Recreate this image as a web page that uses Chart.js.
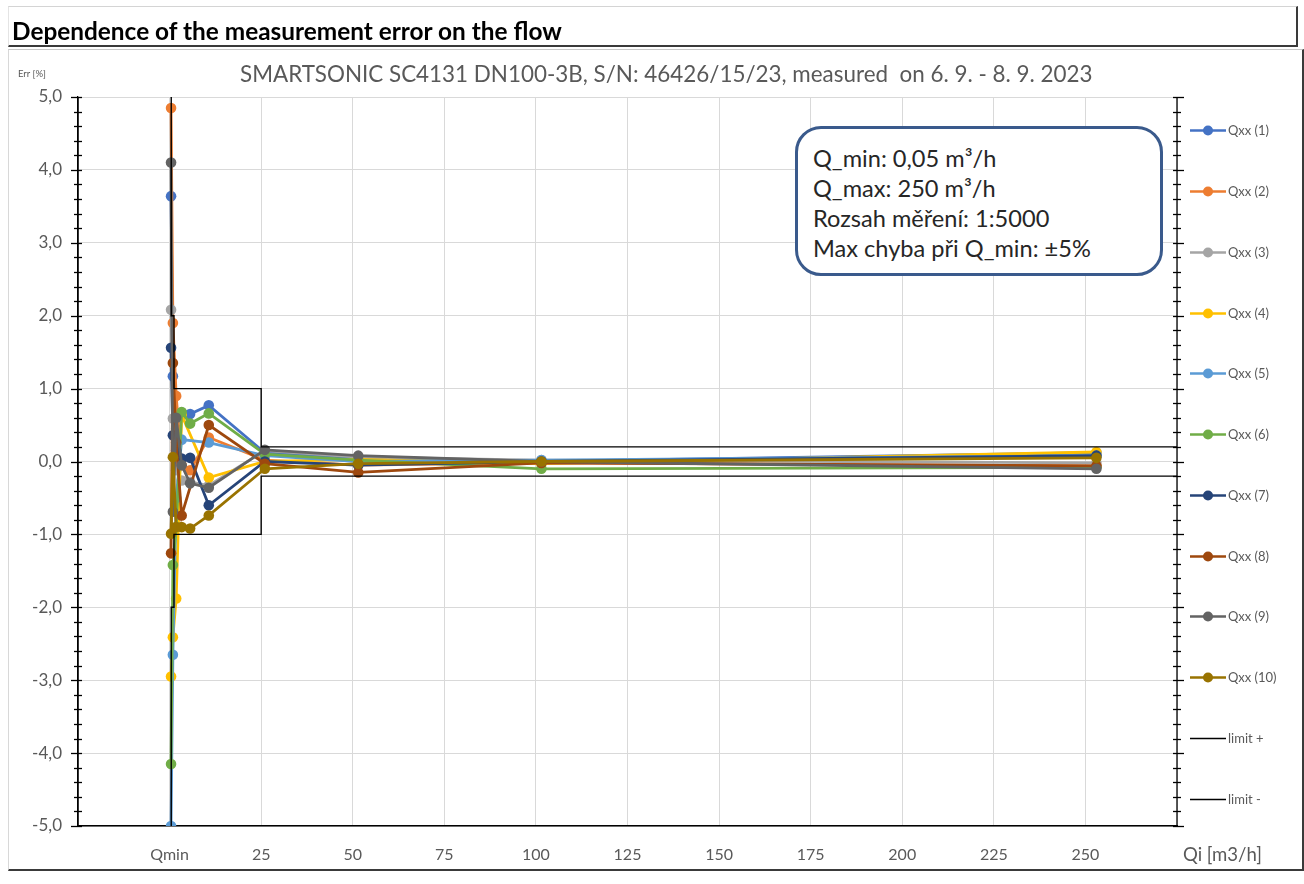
<!DOCTYPE html>
<html><head><meta charset="utf-8">
<script src="https://cdn.jsdelivr.net/npm/chart.js@4"></script>
<style>
html,body{margin:0;padding:0;background:#fff;}
#wrap{position:relative;width:1304px;height:884px;overflow:hidden;font-family:Lato,"Open Sans",sans-serif;}
#c{position:absolute;left:0;top:0;z-index:1;}
.abs{position:absolute;white-space:nowrap;z-index:2;}
#titlebox{left:8px;top:6px;width:1287px;height:38px;border-top:1px solid #d4d4d4;border-left:1px solid #e4e4e4;border-right:2px solid #3a3a3a;border-bottom:2px solid #3a3a3a;z-index:0;}
#chartbox{left:8px;top:49px;width:1293px;height:819px;border-top:1px solid #c8c8c8;border-left:1px solid #d8d8d8;border-right:2px solid #3a3a3a;border-bottom:2px solid #3a3a3a;z-index:0;}
#title{left:12px;top:20px;font-size:20px;font-weight:bold;color:#000;line-height:22px;}
#subtitle{left:240px;top:63px;font-size:20px;color:#595959;line-height:22px;}
#err{left:18px;top:67px;font-size:12px;color:#595959;line-height:14px;}
#qi{left:1183px;top:845px;font-size:16px;color:#595959;line-height:18px;}
#info{left:795px;top:126px;width:368px;height:150px;border:3px solid #3A5A8C;border-radius:26px;background:#fff;box-sizing:border-box;padding:14px 0 0 15px;color:#262626;font-size:20px;line-height:30px;z-index:3;}
</style>
</head><body>
<div id="wrap">
  <div id="titlebox" class="abs"></div>
  <div id="chartbox" class="abs"></div>
  <canvas id="c" width="1304" height="884"></canvas>
  <div id="title" class="abs">Dependence of the measurement error on the flow</div>
  <div id="subtitle" class="abs">SMARTSONIC SC4131 DN100-3B, S/N: 46426/15/23, measured&nbsp; on 6. 9. - 8. 9. 2023</div>
  <div id="err" class="abs">Err [%]</div>
  <div id="qi" class="abs">Qi [m3/h]</div>
  <div id="info" class="abs"><div class="il">Q_min: 0,05 m³/h</div><div class="il">Q_max: 250 m³/h</div><div class="il">Rozsah měření: 1:5000</div><div class="il" id="longest">Max chyba při Q_min: ±5%</div></div>
</div>
<script>
// ---- data ----
const FLOW = [0.4, 0.9, 1.8, 3.3, 5.6, 10.7, 26, 51.5, 101.5, 253];
const ERR_1  = [3.64, 1.17, 0.45, 0.67, 0.65, 0.77, 0.12, 0.05, 0.00, 0.12];
const ERR_2  = [4.85, 1.90, 0.90, -0.05, -0.12, 0.33, 0.02, -0.05, -0.02, -0.06];
const ERR_3  = [2.08, 0.59, -0.12, -0.26, -0.28, -0.33, 0.15, 0.06, 0.02, -0.02];
const ERR_4  = [-2.95, -2.41, -1.88, 0.64, null, -0.22, 0.00, 0.03, -0.03, 0.13];
const ERR_5  = [-5.00, -2.65, -0.50, 0.30, null, 0.26, 0.08, 0.00, 0.02, 0.08];
const ERR_6  = [-4.15, -1.42, -0.90, 0.68, 0.52, 0.66, 0.10, 0.02, -0.10, -0.08];
const ERR_7  = [1.56, 0.36, 0.15, 0.04, 0.05, -0.60, 0.00, -0.05, 0.00, 0.08];
const ERR_8  = [-1.26, 1.35, 0.26, -0.74, null, 0.50, -0.03, -0.15, -0.02, -0.06];
const ERR_9  = [4.10, -0.69, 0.60, -0.05, -0.30, -0.36, 0.16, 0.08, 0.00, -0.10];
const ERR_10 = [-0.99, 0.06, -0.90, -0.90, -0.92, -0.74, -0.10, -0.03, 0.00, 0.05];
const SERIES_NAMES = ['Qxx (1)','Qxx (2)','Qxx (3)','Qxx (4)','Qxx (5)','Qxx (6)','Qxx (7)','Qxx (8)','Qxx (9)','Qxx (10)'];
const SERIES_COLORS = ['#4472C4','#ED7D31','#A5A5A5','#FFC000','#5B9BD5','#70AD47','#264478','#9E480E','#636363','#997300'];
const LIMIT_X     = [0.45, 0.45, 1.2, 1.2, 25, 25, 275];
const LIMIT_PLUS  = [5, 2, 2, 1, 1, 0.2, 0.2];
const LIMIT_MINUS = [-5, -2, -2, -1, -1, -0.2, -0.2];
const X_MIN = -25, X_MAX = 275, X_STEP = 25;
const Y_MIN = -5, Y_MAX = 5, Y_STEP = 1, Y_MINOR = 0.2;

const ERRS = [ERR_1,ERR_2,ERR_3,ERR_4,ERR_5,ERR_6,ERR_7,ERR_8,ERR_9,ERR_10];

// fit HTML texts to reference widths
function fit(id, w){ const el=document.getElementById(id); const fs=parseFloat(getComputedStyle(el).fontSize); el.style.fontSize=(fs*w/el.getBoundingClientRect().width)+'px'; }
fit('title', 550); fit('subtitle', 853); fit('qi', 79); fit('err', 28);
(function(){ const el=document.getElementById('longest'); const box=document.getElementById('info');
  const fs=parseFloat(getComputedStyle(box).fontSize); const r=document.createRange(); r.selectNodeContents(el);
  const w=r.getBoundingClientRect().width; box.style.fontSize=(fs*278/w)+'px'; })();

const datasets = ERRS.map((arr, i) => ({
  label: SERIES_NAMES[i],
  data: FLOW.map((x, j) => ({x: x, y: arr[j]})),
  borderColor: SERIES_COLORS[i],
  backgroundColor: SERIES_COLORS[i],
  borderWidth: 2.8,
  pointRadius: 5.3,
  pointHoverRadius: 5.3,
  pointBorderWidth: 0,
  spanGaps: true,
  order: 12 - i,
  tension: 0
}));
datasets.push({label:'limit +', data: LIMIT_X.map((x,j)=>({x:x,y:LIMIT_PLUS[j]})), borderColor:'#000', backgroundColor:'#000', borderWidth:1.4, pointRadius:0, order:1, tension:0});
datasets.push({label:'limit -', data: LIMIT_X.map((x,j)=>({x:x,y:LIMIT_MINUS[j]})), borderColor:'#000', backgroundColor:'#000', borderWidth:1.4, pointRadius:0, order:0, tension:0});

const axisDeco = {
  id: 'axisDeco',
  afterDraw(chart){
    const ctx = chart.ctx, ys = chart.scales.y, a = chart.chartArea;
    ctx.save();
    ctx.strokeStyle = '#000'; ctx.lineWidth = 1.3;
    ctx.beginPath(); ctx.moveTo(a.right, a.top); ctx.lineTo(a.right, a.bottom); ctx.stroke();
    ctx.beginPath(); ctx.moveTo(a.left, a.top); ctx.lineTo(a.left, a.bottom); ctx.stroke();
    const n = Math.round((Y_MAX - Y_MIN) / Y_MINOR);
    for (let k = 0; k <= n; k++) {
      const v = Y_MIN + k * Y_MINOR;
      const py = Math.round(ys.getPixelForValue(v)) + 0.5;
      const major = Math.abs(v - Math.round(v)) < 1e-6;
      const l = major ? 7 : 4, r = 4;
      ctx.beginPath(); ctx.moveTo(a.left - l, py); ctx.lineTo(a.left + r, py); ctx.stroke();
      ctx.beginPath(); ctx.moveTo(a.right - r, py); ctx.lineTo(a.right + (major ? 7 : 4), py); ctx.stroke();
    }
    // legend
    const items = chart.data.datasets;
    const x0 = 1190, step = (a.bottom - a.top) / items.length;
    ctx.font = '13px Lato, "Open Sans", sans-serif';
    ctx.textBaseline = 'middle';
    items.forEach((d, i) => {
      const yy = Math.round(a.top + step * (i + 0.5)) + 3.5;
      ctx.strokeStyle = d.borderColor;
      ctx.lineWidth = d.pointRadius ? 2.6 : 1.4;
      ctx.beginPath(); ctx.moveTo(x0, yy); ctx.lineTo(x0 + 36, yy); ctx.stroke();
      if (d.pointRadius) { ctx.fillStyle = d.backgroundColor; ctx.beginPath(); ctx.arc(x0 + 18, yy, 5, 0, Math.PI * 2); ctx.fill(); }
      ctx.fillStyle = '#595959';
      ctx.fillText(d.label, x0 + 38, yy);
    });
    ctx.restore();
  }
};

new Chart(document.getElementById('c'), {
  type: 'line',
  data: { datasets },
  plugins: [axisDeco],
  options: {
    responsive: false,
    animation: false,
    events: [],
    layout: { padding: { left: 0, top: 97, right: 127, bottom: 0 } },
    plugins: { legend: { display: false }, title: { display: false }, tooltip: { enabled: false } },
    scales: {
      x: {
        type: 'linear', min: X_MIN, max: X_MAX,
        afterFit(s){ s.height = 58; },
        afterBuildTicks(s){ const t=[]; for (let v = X_MIN; v <= X_MAX + 1e-9; v += X_STEP) t.push({value: v}); s.ticks = t; },
        ticks: { autoSkip: false, maxRotation: 0, padding: 19, color: '#595959', font: { size: 16, family: 'Lato, "Open Sans", sans-serif' },
          callback: v => v === 0 ? 'Qmin' : (v < 0 || v > 250 ? '' : String(v)) },
        grid: { color: '#d9d9d9', lineWidth: 1, drawTicks: false },
        border: { display: true, color: '#000', width: 1.5 }
      },
      y: {
        type: 'linear', min: Y_MIN, max: Y_MAX,
        afterFit(s){ s.width = 78; },
        ticks: { stepSize: Y_STEP, padding: 16, color: '#595959', font: { size: 17, family: 'Lato, "Open Sans", sans-serif' },
          callback: v => v.toFixed(1).replace('.', ',') },
        grid: { color: '#d9d9d9', lineWidth: 1, drawTicks: false },
        border: { display: true, color: '#000', width: 1.3 }
      }
    }
  }
});
</script>
</body></html>
